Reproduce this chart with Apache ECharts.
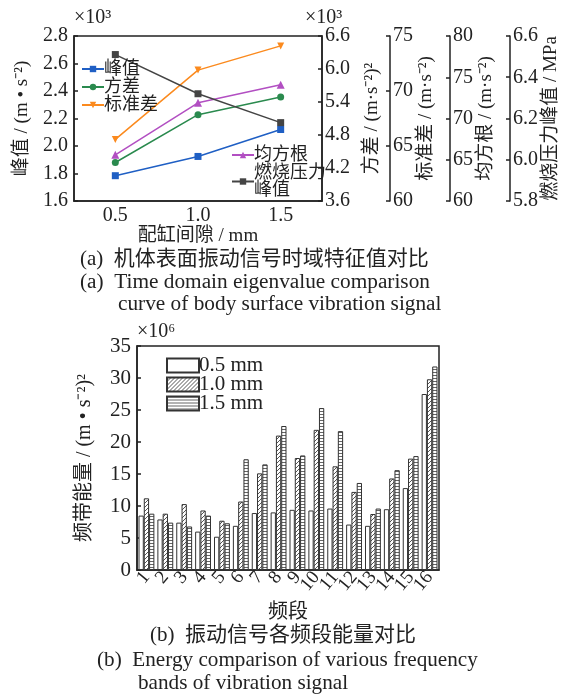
<!DOCTYPE html>
<html>
<head>
<meta charset="utf-8">
<script src="https://cdn.jsdelivr.net/npm/echarts@6/dist/echarts.min.js"></script>
<style>
  html, body { margin: 0; padding: 0; background: #fff; }
  #main { width: 573px; height: 696px; }
</style>
</head>
<body>
<div id="main"></div>
<script>
// top chart: clearance vs time-domain features
var gaps = ['0.5', '1.0', '1.5'];
var peak = [1.784, 1.924, 2.12];          // x10^3
var variance = [4.30, 5.17, 5.49];        // x10^3
var stdDev = [65.6, 71.9, 74.1];
var rms = [65.6, 71.9, 74.1];
var pressure = [6.51, 6.32, 6.18];

// bottom chart: energy per frequency band (x10^6)
var bands = ['1', '2', '3', '4', '5', '6', '7', '8', '9', '10', '11', '12', '13', '14', '15', '16'];
var e05 = [8.5, 7.9, 7.4, 6.0, 5.2, 6.9, 8.9, 9.0, 9.4, 9.3, 9.6, 7.1, 6.9, 9.5, 12.8, 27.5];
var e10 = [11.2, 8.8, 10.3, 9.3, 7.7, 10.7, 15.1, 21.0, 17.5, 21.9, 16.2, 12.2, 8.75, 14.3, 17.4, 29.8];
var e15 = [8.8, 7.4, 6.8, 8.5, 7.3, 17.3, 16.5, 22.5, 17.9, 25.3, 21.7, 13.6, 9.6, 15.6, 17.8, 31.8];

var FONT = '"Liberation Serif", "Noto Sans CJK SC", serif';
var INK = '#222';

function makePattern(kind) {
    var c = document.createElement('canvas');
    var ctx = c.getContext('2d');
    if (kind === 'diag') {
        c.width = 4; c.height = 4;
        ctx.fillStyle = '#fff';
        ctx.fillRect(0, 0, 4, 4);
        ctx.strokeStyle = '#555';
        ctx.lineWidth = 1;
        ctx.beginPath();
        ctx.moveTo(0, 4); ctx.lineTo(4, 0);
        ctx.moveTo(-1, 1); ctx.lineTo(1, -1);
        ctx.moveTo(3, 5); ctx.lineTo(5, 3);
        ctx.stroke();
    } else {
        c.width = 4; c.height = 3;
        ctx.fillStyle = '#fff';
        ctx.fillRect(0, 0, 4, 3);
        ctx.fillStyle = '#666';
        ctx.fillRect(0, 0, 4, 1);
    }
    return { image: c, repeat: 'repeat' };
}

var chart = echarts.init(document.getElementById('main'));

function rightAxis(name, min, max, interval, offset, digits, gap) {
    return {
        type: 'value',
        gridIndex: 0,
        position: 'right',
        offset: offset,
        min: min,
        max: max,
        interval: interval,
        name: name,
        nameLocation: 'middle',
        nameGap: gap,
        nameTextStyle: { fontFamily: FONT, fontSize: 19, color: INK },
        axisLine: { show: true, lineStyle: { color: INK, width: 1.5 } },
        axisTick: { show: true, inside: true, length: 4, lineStyle: { color: INK, width: 1.5 } },
        axisLabel: {
            margin: 3,
            fontFamily: FONT, fontSize: 20, color: INK,
            formatter: function (v) { return digits ? v.toFixed(digits) : String(Math.round(v)); }
        },
        splitLine: { show: false }
    };
}

var lineCommon = function (name, data, yIdx, color, symbol) {
    return {
        name: name,
        type: 'line',
        xAxisIndex: 0,
        yAxisIndex: yIdx,
        data: data,
        symbol: symbol,
        symbolSize: symbol === 'triangle' ? 8 : 7,
        color: color,
        lineStyle: { width: 1.5, color: color },
        itemStyle: { color: color }
    };
};

var barLegend = function (name, top) {
    return {
        data: [name],
        icon: 'rect',
        left: 161, top: top,
        itemWidth: 32, itemHeight: 14,
        textStyle: { fontFamily: FONT, fontSize: 21, color: INK, padding: [0, 0, 0, -5] }
    };
};

var option = {
    animation: false,
    backgroundColor: '#fff',
    textStyle: { fontFamily: FONT },
    grid: [
        { left: 74, top: 36, width: 248, height: 165, show: true, borderColor: INK, borderWidth: 1.5 },
        { left: 137, top: 346, width: 302, height: 224, show: true, borderColor: INK, borderWidth: 1.5 }
    ],
    legend: [
        {
            data: ['峰值', '方差', '标准差'],
            orient: 'vertical',
            left: 76, top: 55,
            itemGap: 0, itemWidth: 22, itemHeight: 8,
            textStyle: { fontFamily: FONT, fontSize: 18, color: INK, lineHeight: 17, padding: [0, 0, 0, -5] }
        },
        {
            data: ['均方根', '燃烧压力峰值'],
            orient: 'vertical',
            left: 226, top: 141,
            itemGap: 0, itemWidth: 22, itemHeight: 8,
            formatter: function (n) { return n === '燃烧压力峰值' ? '燃烧压力\n峰值' : n; },
            textStyle: { fontFamily: FONT, fontSize: 18, color: INK, lineHeight: 17, padding: [0, 0, 0, -5] }
        },
        barLegend('0.5 mm', 350),
        barLegend('1.0 mm', 369),
        barLegend('1.5 mm', 388)
    ],
    xAxis: [
        {
            type: 'category',
            gridIndex: 0,
            data: gaps,
            boundaryGap: true,
            name: '配缸间隙 / mm',
            nameLocation: 'middle',
            nameGap: 26,
            nameTextStyle: { fontFamily: FONT, fontSize: 19, color: INK },
            axisLine: { lineStyle: { color: INK, width: 1.5 } },
            axisTick: { inside: true, alignWithLabel: true, length: 4, lineStyle: { color: INK, width: 1.5 } },
            axisLabel: { fontFamily: FONT, fontSize: 20, color: INK, margin: 5 }
        },
        {
            type: 'category',
            gridIndex: 1,
            data: bands,
            name: '频段',
            nameLocation: 'middle',
            nameGap: 33,
            nameTextStyle: { fontFamily: FONT, fontSize: 20, color: INK },
            axisLine: { lineStyle: { color: INK, width: 1.5 } },
            axisTick: { inside: true, interval: 0, length: 4, lineStyle: { color: INK } },
            axisLabel: { interval: 0, rotate: 50, fontFamily: FONT, fontSize: 19, color: INK, margin: 4 }
        }
    ],
    yAxis: [
        {
            type: 'value',
            gridIndex: 0,
            min: 1.6, max: 2.8, interval: 0.2,
            name: '峰值 / (m • s⁻²)',
            nameLocation: 'middle',
            nameGap: 42,
            nameTextStyle: { fontFamily: FONT, fontSize: 19, color: INK },
            axisLine: { show: true, lineStyle: { color: INK, width: 1.5 } },
            axisTick: { show: true, inside: true, length: 4, lineStyle: { color: INK, width: 1.5 } },
            axisLabel: { fontFamily: FONT, fontSize: 20, color: INK, margin: 6,
                formatter: function (v) { return v.toFixed(1); } },
            splitLine: { show: false }
        },
        rightAxis('方差 / (m·s⁻²)²', 3.6, 6.6, 0.6, 0, 1, 41),
        rightAxis('标准差 / (m·s⁻²)', 60, 75, 5, 68, 0, 25),
        rightAxis('均方根 / (m·s⁻²)', 60, 80, 5, 128, 0, 25),
        rightAxis('燃烧压力峰值 / MPa', 5.8, 6.6, 0.2, 188, 1, 32),
        {
            type: 'value',
            gridIndex: 1,
            min: 0, max: 35, interval: 5,
            name: '频带能量 / (m • s⁻²)²',
            nameLocation: 'middle',
            nameGap: 42,
            nameTextStyle: { fontFamily: FONT, fontSize: 20, color: INK },
            axisLine: { show: true, lineStyle: { color: INK, width: 1.5 } },
            axisTick: { show: true, inside: true, length: 4, lineStyle: { color: INK, width: 1.5 } },
            axisLabel: { fontFamily: FONT, fontSize: 21, color: INK, margin: 6 },
            splitLine: { show: false }
        }
    ],
    graphic: [
        { type: 'text', left: 74, top: 8, style: { text: '×10³', font: '20px ' + FONT, fill: INK } },
        { type: 'text', left: 305, top: 8, style: { text: '×10³', font: '20px ' + FONT, fill: INK } },
        { type: 'text', left: 137, top: 322, style: { text: '×10⁶', font: '20px ' + FONT, fill: INK } },
        { type: 'text', left: 80, top: 249, style: { text: '(a)  机体表面振动信号时域特征值对比', font: '21px ' + FONT, fill: INK } },
        { type: 'text', left: 80, top: 272, style: { text: '(a)  Time domain eigenvalue comparison', font: '21.3px ' + FONT, fill: INK } },
        { type: 'text', left: 118, top: 294, style: { text: 'curve of body surface vibration signal', font: '21.3px ' + FONT, fill: INK } },
        { type: 'text', left: 150, top: 625, style: { text: '(b)  振动信号各频段能量对比', font: '21px ' + FONT, fill: INK } },
        { type: 'text', left: 97, top: 650, style: { text: '(b)  Energy comparison of various frequency', font: '21.2px ' + FONT, fill: INK } },
        { type: 'text', left: 138, top: 673, style: { text: 'bands of vibration signal', font: '21.2px ' + FONT, fill: INK } }
    ],
    series: [
        lineCommon('峰值', peak, 0, '#1f5fc4', 'rect'),
        lineCommon('方差', variance, 1, '#2a8a4e', 'circle'),
        lineCommon('标准差', stdDev, 2, '#fb8a1e', 'path://M0,0 L10,0 L5,9 Z'),
        lineCommon('均方根', rms, 3, '#b24fc2', 'triangle'),
        lineCommon('燃烧压力峰值', pressure, 4, '#444444', 'rect'),
        {
            name: '0.5 mm', type: 'bar', xAxisIndex: 1, yAxisIndex: 5, data: e05,
            barGap: 0, barCategoryGap: '16%',
            itemStyle: { color: '#fff', borderColor: '#333', borderWidth: 1 }
        },
        {
            name: '1.0 mm', type: 'bar', xAxisIndex: 1, yAxisIndex: 5, data: e10,
            barGap: 0, barCategoryGap: '16%',
            itemStyle: { color: makePattern('diag'), borderColor: '#333', borderWidth: 1 }
        },
        {
            name: '1.5 mm', type: 'bar', xAxisIndex: 1, yAxisIndex: 5, data: e15,
            barGap: 0, barCategoryGap: '16%',
            itemStyle: { color: makePattern('horiz'), borderColor: '#333', borderWidth: 1 }
        }
    ]
};

chart.setOption(option);

window.addEventListener('resize', function () {
    chart.resize();
});
</script>
</body>
</html>
